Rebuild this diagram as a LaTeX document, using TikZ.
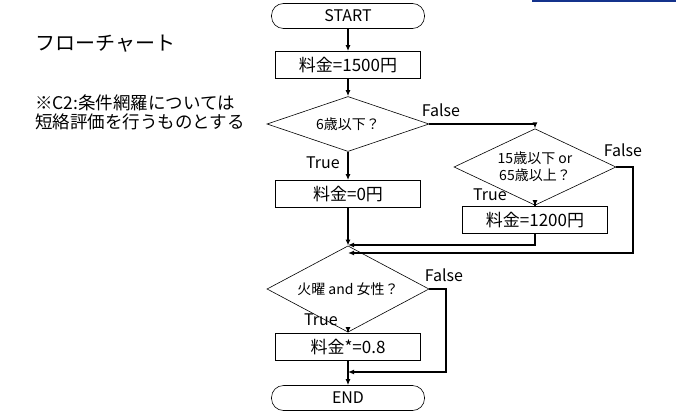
\documentclass[tikz,border=0pt]{standalone}
\usepackage{fontspec}
\setmainfont{Noto Sans CJK JP}
\usetikzlibrary{arrows.meta,shapes.geometric}
\definecolor{slideblue}{RGB}{20,50,140}

\begin{document}
\begin{tikzpicture}[x=1pt,y=-1pt,>={Latex[length=6pt,width=5pt]},
  term/.style={draw,line width=0.6pt,rounded corners=12pt,minimum width=153pt,minimum height=25pt,inner sep=0pt,font=\fontsize{16}{18}\selectfont},
  proc/.style={draw,line width=0.8pt,minimum width=145pt,minimum height=27pt,inner sep=0pt,font=\fontsize{17}{19}\selectfont},
  cond/.style={draw,diamond,line width=0.6pt,minimum width=162pt,minimum height=55pt,inner xsep=-10pt,inner ysep=-4pt,align=center,font=\fontsize{14}{17}\selectfont},
  lbl/.style={font=\fontsize{16}{18}\selectfont},
  arr/.style={->,line width=1.3pt}]
  \useasboundingbox (0,0) rectangle (676,412);
  \fill[slideblue] (532,0) rectangle (676,2.5);

  % notes on the left
  \node[anchor=west,inner sep=0pt,font=\fontsize{20}{22}\selectfont] (title) at (35,44) {フローチャート};
  \node[anchor=west,inner sep=0pt,align=left,font=\fontsize{17.5}{19}\selectfont] (note) at (35,112)
    {※C2:条件網羅については\\短絡評価を行うものとする};

  % main column
  \node[term] (start) at (348,16) {START};
  \node[proc] (fee) at (348,65) {料金=1500円};
  \node[cond] (child) at (348,124) {6歳以下？};
  \node[proc] (free) at (348,194) {料金=0円};
  \node[cond] (age) at (535,167) {15歳以下 or\\65歳以上？};
  \node[proc] (senior) at (535,220) {料金=1200円};
  \node[cond] (lady) at (348,289) {火曜 and 女性？};
  \node[proc] (disc) at (348,347) {料金*=0.8};
  \node[term] (stop) at (348,398) {END};

  \coordinate (j1) at (348,245);
  \coordinate (j2) at (348,253);
  \coordinate (r2) at (633,253);
  \coordinate (j3) at (348,372);
  \coordinate (r3) at (446,372);

  \draw[arr] (start) -- (fee);
  \draw[arr] (fee) -- (child);
  \draw[arr] (child) -- (free);
  \draw[arr] (child.east) -| (age.north);
  \draw[arr] (age) -- (senior);
  \draw[arr] (senior.south) |- (j1);
  \draw[arr] (age.east) -| (r2) -- (j2);
  \draw[arr] (free) -- (lady);
  \draw[arr] (lady.east) -| (r3) -- (j3);
  \draw[arr] (lady) -- (disc);
  \draw[arr] (disc) -- (stop);

  % branch labels
  \node[lbl] (f1) at (441,110) {False};
  \node[lbl] (t1) at (323,163) {True};
  \node[lbl] (f2) at (623,150) {False};
  \node[lbl] (t2) at (490,195) {True};
  \node[lbl] (f3) at (444,275) {False};
  \node[lbl] (t3) at (321,320) {True};
\end{tikzpicture}
\end{document}
